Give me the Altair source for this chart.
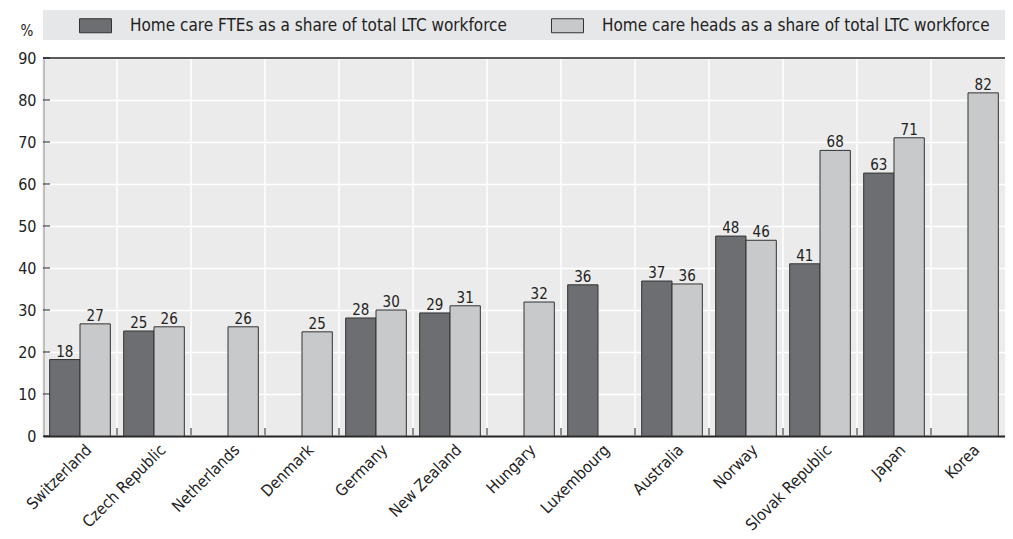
import altair as alt
import pandas as pd

countries = ["Switzerland", "Czech Republic", "Netherlands", "Denmark", "Germany",
             "New Zealand", "Hungary", "Luxembourg", "Australia", "Norway",
             "Slovak Republic", "Japan", "Korea"]
fte = [18.2, 25.0, None, None, 28.1, 29.3, None, 36.0, 36.9, 47.6, 41.0, 62.6, None]
heads = [26.7, 26.0, 26.0, 24.8, 30.0, 31.0, 31.9, None, 36.2, 46.6, 68.0, 71.0, 81.7]
fte_label = [18, 25, None, None, 28, 29, None, 36, 37, 48, 41, 63, None]
heads_label = [27, 26, 26, 25, 30, 31, 32, None, 36, 46, 68, 71, 82]
series = ["Home care FTEs as a share of total LTC workforce",
          "Home care heads as a share of total LTC workforce"]
colors = ["#6d6e71", "#c8c9cb"]
yticks = [0, 10, 20, 30, 40, 50, 60, 70, 80, 90]

rows = []
for i, c in enumerate(countries):
    rows.append({"country": c, "series": series[0], "value": fte[i], "label": fte_label[i]})
    rows.append({"country": c, "series": series[1], "value": heads[i], "label": heads_label[i]})
df = pd.DataFrame(rows)
cdf = pd.DataFrame({"country": countries})
tdf = pd.DataFrame({"v": yticks})

W, H = 962, 378
FONT = "'Liberation Sans Narrow', 'DejaVu Sans Condensed', Roboto, sans-serif"

xscale = alt.Scale(domain=countries, paddingInner=0, paddingOuter=0)
yscale = alt.Scale(domain=[0, 90], nice=False)

band = alt.Chart(cdf).mark_rect(color="#e6e7e8").encode(
    x=alt.value(0), x2=alt.value(W), y=alt.value(-48), y2=alt.value(-18))

vgrid = alt.Chart(cdf).mark_rule(color="white", strokeWidth=1.5).encode(
    x=alt.X("country:N", scale=xscale, bandPosition=0),
    y=alt.value(0), y2=alt.value(H))

topline = alt.Chart(cdf[:1]).mark_rule(color="#222", strokeWidth=1.5).encode(
    x=alt.value(0), x2=alt.value(W), y=alt.value(0))

xticks = alt.Chart(cdf[1:]).mark_rule(color="#222", strokeWidth=1).encode(
    x=alt.X("country:N", scale=xscale, bandPosition=0),
    y=alt.value(H), y2=alt.value(H - 8))

yt = alt.Chart(tdf).mark_rule(color="#222", strokeWidth=1).encode(
    y=alt.Y("v:Q", scale=yscale),
    x=alt.value(0), x2=alt.value(7))

bars = alt.Chart(df).mark_bar(stroke="#333", strokeWidth=1).encode(
    x=alt.X("country:N", scale=xscale, sort=countries, title=None,
            axis=alt.Axis(labelAngle=-45, labelAlign="right", labelBaseline="middle",
                          labelFontSize=16, labelFont=FONT, labelColor="#222",
                          ticks=False, grid=False, domainColor="#222", domainWidth=2,
                          labelPadding=11, labelOffset=9)),
    xOffset=alt.XOffset("series:N", sort=series,
                        scale=alt.Scale(paddingOuter=0.22, paddingInner=0)),
    y=alt.Y("value:Q", scale=yscale, title="%",
            axis=alt.Axis(values=yticks, labelFontSize=16, labelFont=FONT, labelColor="#222",
                          ticks=False, gridColor="white", gridWidth=1.5, domainColor="#222",
                          domainWidth=1.5, labelPadding=7,
                          titleAngle=0, titleX=-23, titleY=-20, titleAlign="left",
                          titleFontSize=15, titleFont=FONT, titleFontWeight="normal",
                          titleColor="#222")),
    color=alt.Color("series:N", sort=series,
                    scale=alt.Scale(domain=series, range=colors),
                    legend=alt.Legend(orient="none", legendX=42, legendY=-43,
                                      direction="horizontal", title=None,
                                      symbolType="M-1.6,-0.7H1.6V0.7H-1.6Z",
                                      symbolSize=400, symbolStrokeColor="#333",
                                      symbolStrokeWidth=1, symbolOpacity=1,
                                      labelFontSize=17, labelFont=FONT, labelColor="#222",
                                      labelOffset=24, columnPadding=42,
                                      labelLimit=600)),
)

text = alt.Chart(df).transform_filter("datum.label != null").mark_text(
    dy=-8, fontSize=15, font=FONT, color="#222").encode(
    x=alt.X("country:N", scale=xscale, sort=countries),
    xOffset=alt.XOffset("series:N", sort=series,
                        scale=alt.Scale(paddingOuter=0.22, paddingInner=0)),
    y=alt.Y("value:Q", scale=yscale),
    text=alt.Text("label:Q"))

chart = alt.layer(bars, band, vgrid, topline, xticks, yt, text).properties(
    width=W, height=H,
    autosize=alt.AutoSizeParams(type="none"),
    padding={"left": 35, "top": 50, "right": 0, "bottom": 100},
).configure_view(fill="#ebebeb", stroke=None)

chart.save("out.html", embed_options={"renderer": "svg", "actions": False})
